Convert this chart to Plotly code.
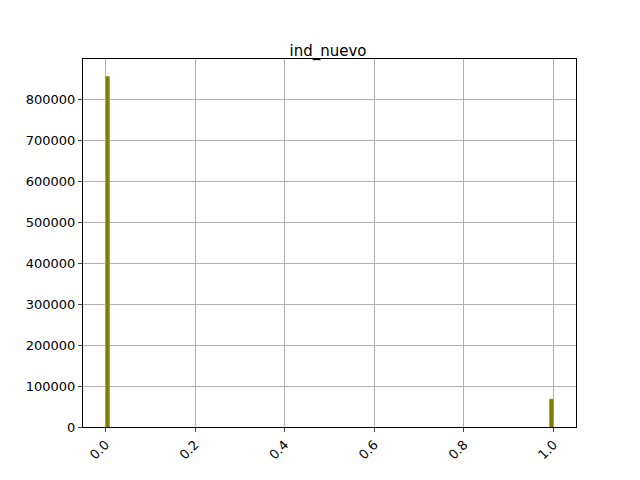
import plotly.graph_objects as go

# histogram of ind_nuevo, 100 bins over [0, 1]
bin_centers = [0.005, 0.995]
counts = [856000, 68000]
x_ticks = [0.0, 0.2, 0.4, 0.6, 0.8, 1.0]
y_ticks = [0, 100000, 200000, 300000, 400000, 500000, 600000, 700000, 800000]

fig = go.Figure()
fig.add_trace(go.Bar(x=bin_centers, y=counts, width=0.008,
                     marker=dict(color="olive", line=dict(color="olive", width=0.5))))

fig.update_layout(
    width=640, height=480,
    margin=dict(l=75, r=72, t=51, b=61),
    paper_bgcolor="white", plot_bgcolor="white",
    font=dict(family="DejaVu Sans", size=13, color="black"),
    title=dict(text="ind_nuevo", x=0.5, xanchor="center", y=0.91, yanchor="middle",
               font=dict(size=15)),
    showlegend=False,
)
fig.update_xaxes(range=[-0.05, 1.05], tickvals=x_ticks, ticktext=[f"{v:.1f}" for v in x_ticks],
                 tickangle=-45, ticks="outside", ticklen=4, showgrid=True, gridcolor="#b0b0b0",
                 showline=True, linecolor="black", mirror=True, zeroline=False)
fig.update_yaxes(range=[0, 899000], tickvals=y_ticks, ticks="outside", ticklen=4,
                 showgrid=True, gridcolor="#b0b0b0", showline=True, linecolor="black",
                 mirror=True, zeroline=False, tickformat="d")

fig.write_html("out.html")
